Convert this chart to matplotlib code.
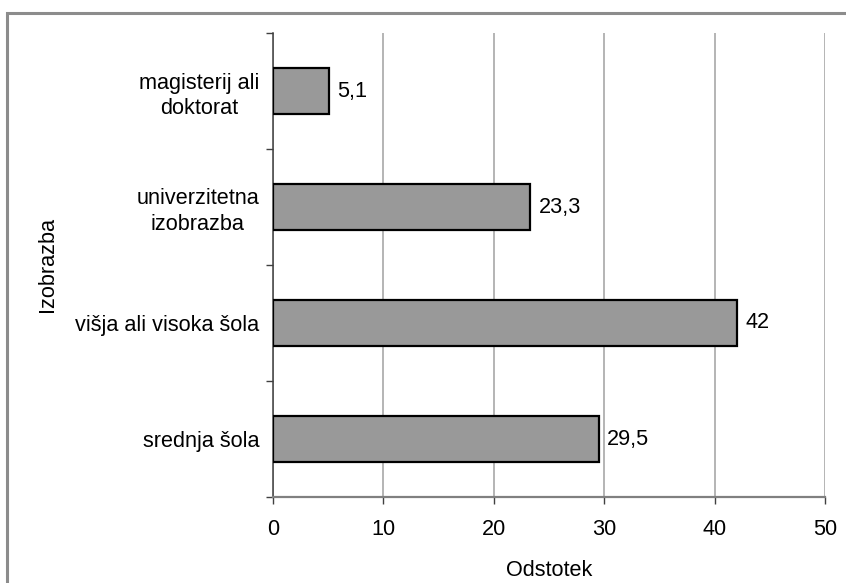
import numpy as np
import matplotlib.pyplot as plt
from matplotlib.patches import Rectangle

plt.rcParams['font.family'] = ['Liberation Sans', 'DejaVu Sans']

# kategorije od spodaj navzgor
categories = ["srednja šola", "višja ali visoka šola",
              "univerzitetna\nizobrazba", "magisterij ali\ndoktorat"]
values = [29.5, 42, 23.3, 5.1]
value_labels = ["29,5", "42", "23,3", "5,1"]
xticks = [0, 10, 20, 30, 40, 50]

fs = 15.6

fig = plt.figure(figsize=(8.46, 5.83), dpi=100)
ax = fig.add_axes([273/846, 1 - 497/583, (825 - 273)/846, (497 - 33)/583])

# okvir okoli celotne slike
fig.patches.append(Rectangle((7/846, -0.1), 1.2, 1 - 13/583 + 0.1,
                             transform=fig.transFigure, fill=False,
                             edgecolor='#8c8c8c', linewidth=2.2))

y = np.arange(len(categories))
ax.barh(y, values, height=0.4, color='#999999', edgecolor='black',
        linewidth=1.6, zorder=3)

for yi, v, lab in zip(y, values, value_labels):
    ax.annotate(lab, (v, yi), xytext=(6, 0), textcoords='offset points',
                ha='left', va='center', fontsize=fs)

ax.set_xlim(0, 50)
ax.set_ylim(-0.5, len(categories) - 0.5)
ax.set_xticks(xticks)
ax.set_xticklabels([str(t) for t in xticks], fontsize=fs)
ax.xaxis.grid(True, color='#a0a0a0', linewidth=1.1, zorder=0)

# imena kategorij brez oznak, oznake na mejah med kategorijami
ax.set_yticks(y)
ax.set_yticklabels(categories, fontsize=fs, ha='right', ma='center',
                   linespacing=1.3)
ax.set_yticks(np.arange(-0.5, len(categories), 1), minor=True)
ax.tick_params(axis='y', which='major', length=0, pad=10)
ax.tick_params(axis='y', which='minor', length=5, width=1, color='#404040')
ax.tick_params(axis='x', length=5, width=1, color='#404040', pad=11)

for s in ['top', 'right']:
    ax.spines[s].set_visible(False)
ax.spines['left'].set_color('#404040')
ax.spines['left'].set_linewidth(1.1)
ax.spines['bottom'].set_color('#808080')
ax.spines['bottom'].set_linewidth(1.6)

ax.set_xlabel("Odstotek", fontsize=fs, labelpad=14)
ax.set_ylabel("Izobrazba", fontsize=fs)
ax.yaxis.label.set_va('center')
ax.yaxis.set_label_coords(-(273 - 48)/552, 0.5)

fig.savefig("out.png", dpi=100)
